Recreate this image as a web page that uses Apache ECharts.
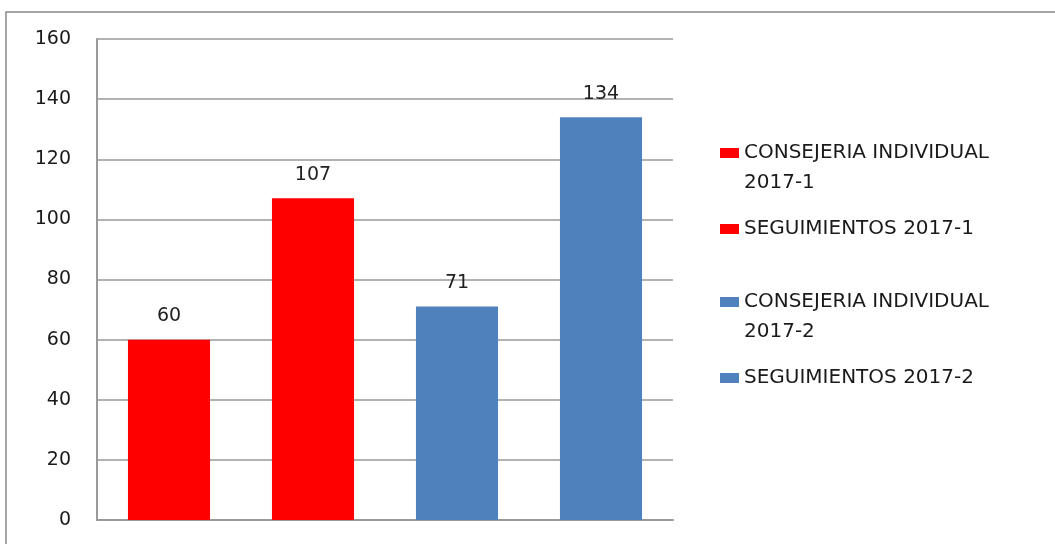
<!DOCTYPE html>
<html>
<head>
<meta charset="utf-8">
<script src="https://cdn.jsdelivr.net/npm/echarts@6/dist/echarts.min.js"></script>
<style>
html,body{margin:0;padding:0;background:#fff;}
#chart{width:1055px;height:544px;}
</style>
</head>
<body>
<div id="chart"></div>
<script>
const categories = ['CONSEJERIA INDIVIDUAL 2017-1', 'SEGUIMIENTOS 2017-1', 'CONSEJERIA INDIVIDUAL 2017-2', 'SEGUIMIENTOS 2017-2'];
const legendLabels = ['CONSEJERIA INDIVIDUAL\n2017-1', 'SEGUIMIENTOS 2017-1', 'CONSEJERIA INDIVIDUAL\n2017-2', 'SEGUIMIENTOS 2017-2'];
const values = [60, 107, 71, 134];
const colors = ['#FF0000', '#FF0000', '#4F81BD', '#4F81BD'];
const yTicks = [0, 20, 40, 60, 80, 100, 120, 140, 160];

const FONT = 'DejaVu Sans';
const chart = echarts.init(document.getElementById('chart'));

const series = categories.map((name, i) => ({
  name: name,
  type: 'bar',
  stack: 'all',
  barWidth: '57%',
  itemStyle: { color: colors[i] },
  label: {
    show: true, position: 'top', distance: 14,
    fontFamily: FONT, fontSize: 19, color: '#222'
  },
  data: categories.map((c, j) => (j === i ? values[i] : null))
}));

const legendCenters = [153, 229, 302, 378];
const legends = categories.map((name, i) => {
  const twoLine = legendLabels[i].indexOf('\n') >= 0;
  return {
    data: [name],
    orient: 'vertical',
    left: 720,
    top: twoLine ? legendCenters[i] - 45 : legendCenters[i] - 15,
    padding: 0,
    icon: 'rect',
    itemWidth: 19,
    itemHeight: 10,
    selectedMode: false,
    // leading blank line keeps the first text line level with the marker
    formatter: () => (twoLine ? ' \n' + legendLabels[i] : legendLabels[i]),
    textStyle: {
      fontFamily: FONT, fontSize: 20, color: '#1a1a1a', lineHeight: 30
    }
  };
});

chart.setOption({
  backgroundColor: '#ffffff',
  animation: false,
  grid: { left: 97, right: 382, top: 39, bottom: 24, containLabel: false },
  legend: legends,
  xAxis: {
    type: 'category',
    data: categories,
    axisLine: { show: true, lineStyle: { color: '#999', width: 2 } },
    axisTick: { show: false },
    axisLabel: { show: false }
  },
  yAxis: {
    type: 'value',
    min: yTicks[0],
    max: yTicks[yTicks.length - 1],
    interval: 20,
    axisLine: { show: true, lineStyle: { color: '#999', width: 2 } },
    axisTick: { show: false },
    axisLabel: { fontFamily: FONT, fontSize: 19, color: '#1a1a1a', margin: 26 },
    splitLine: { show: true, lineStyle: { color: '#999', width: 1.5 } }
  },
  graphic: [{
    type: 'rect',
    shape: { x: 6, y: 12, width: 1200, height: 700 },
    style: { fill: 'none', stroke: '#888', lineWidth: 1.5 },
    silent: true, z: -1
  }],
  series: series
});
</script>
</body>
</html>
